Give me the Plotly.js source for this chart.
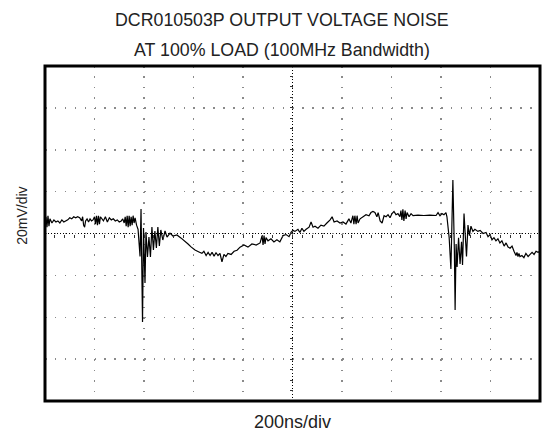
<!DOCTYPE html>
<html>
<head>
<meta charset="utf-8">
<script src="https://cdn.plot.ly/plotly-3.0.1.min.js"></script>
<style>html,body{margin:0;padding:0;background:#fff;}#chart{width:542px;height:438px;}</style>
</head>
<body>
<div id="chart"></div>
<script>
// Chart texts
const titleLines = ["DCR010503P OUTPUT VOLTAGE NOISE", "AT 100% LOAD (100MHz Bandwidth)"];
const xLabel = "200ns/div";
const yLabel = "20mV/div";

// Scope screen: 10 horizontal divisions of 200 ns, 8 vertical divisions of 20 mV
const timeRangeNs = [-1000, 1000];
const voltRangeMv = [-80, 80];

// Trace (time in ns, voltage in mV)
const timeNs = [
  -1000,-996,-992,-988,-984,-980,-972,-964,-956,-948,-940,-932,-924,-916,-908,-900,-892,-884,-876,-868,
  -860,-852,-848,-844,-840,-836,-830,-824,-818,-812,-806,-800,-796,-792,-788,-784,-780,-776,-770,-764,
  -756,-748,-740,-732,-724,-716,-708,-700,-692,-686,-680,-676,-672,-668,-664,-660,-656,-652,-648,-644,
  -640,-636,-630,-624,-616,-612,-606,-602,-596,-592,-586,-580,-574,-568,-562,-556,-550,-544,-538,-532,
  -524,-515,-507,-495,-483,-467,-451,-434,-422,-410,-394,-378,-366,-358,-349,-341,-333,-325,-317,-309,
  -301,-293,-285,-277,-269,-261,-248,-236,-224,-212,-196,-180,-164,-147,-131,-123,-119,-115,-111,-107,
  -99,-87,-75,-63,-51,-38,-26,-14,-6,2,10,22,30,38,46,55,67,75,83,91,
  103,115,127,139,152,160,168,180,192,204,216,228,236,244,248,252,257,261,265,273,
  285,297,309,317,325,333,341,346,354,362,370,378,386,394,402,410,418,426,434,438,
  442,446,450,455,459,463,471,479,487,507,531,555,580,588,596,604,612,620,624,630,
  633,640,644,648,654,657,661,665,671,677,683,687,693,699,703,709,715,721,729,737,
  749,758,770,782,790,798,806,814,822,830,838,846,855,863,871,879,887,895,903,907,
  911,915,919,927,935,943,952,960,968,976,984,992,1000
];
const noiseMv = [
  4,8,3,8.5,3.5,7,5,6.5,5.5,6,5,6.5,5.5,6,6.5,7.5,7,8,7.5,8,
  7.5,6,8,4,3,6,7,5.5,7,6,6.5,8,4.5,8.5,4,8.5,4.5,8,7,6,
  8,5.5,7.5,6.5,7,6,6.5,5.5,6,7,5,8,3.5,8.5,3,8.5,3.5,8,4,8.5,
  5,7.5,4,2,-11,11.7,-42.3,2.6,-23.6,0.7,-11.2,-1.7,-11.2,3.1,-7.9,1.2,-6.9,3.1,-6,1.7,
  -3.1,1.2,-1.7,0.2,-1.2,-0.7,-2.1,-3.6,-5,-6.4,-7.9,-8.8,-9.5,-8.5,-10.5,-9,-10.5,-9,-10.8,-9.2,
  -10.5,-9.5,-13.5,-10,-11,-9.5,-10,-8.5,-8,-6.5,-5.5,-6.5,-5,-5.5,-4.5,-1,-5.5,-1,-5,-2,
  -3.5,-2.5,-4,-3,-4,-1,-0.5,-1.5,0.5,1.5,1,2,0.5,2.5,1,2,3,5.5,3,3.5,
  2.5,4,3.5,5,6.5,8,5.5,6,5,5.5,4.5,7,5,8.5,4.5,8.5,4.5,8.5,5,7,
  8,9,8.5,10,10.5,10,8,10,6,5,8.5,8,9,7.5,9.5,10.5,9,9.5,8,11,
  6.5,11.5,6,11,7,10,8,9.5,8.5,8.8,8.6,8.8,8.6,10,8.5,9.5,9,10,8,0,
  -2,-17,0,25.6,-8,-36.5,-5,-16,-2,-14.5,-4,-15,9.5,-8,-11,4,-1,3.5,1,2,
  1,1.5,0,0.5,-1.5,-0.5,-3,-2,-3.5,-2.5,-4.5,-3.5,-6,-4.5,-6.5,-7,-6,-8.5,-10.5,-9,
  -11,-9.5,-11,-10.5,-11.5,-9.5,-11,-10,-9,-10,-8.5,-9,-8.5
];

const FONT = "Liberation Sans, Arial, Helvetica, sans-serif";
const TXT = "#222";

const trace = {
  x: timeNs, y: noiseMv, type: "scatter", mode: "lines",
  line: {color: "#000", width: 1.2},
  hoverinfo: "skip"
};

const layout = {
  width: 542, height: 438,
  margin: {l: 45, r: 2, t: 66, b: 37, pad: 0},
  paper_bgcolor: "#fff", plot_bgcolor: "#fff",
  showlegend: false, hovermode: false,
  font: {family: FONT, color: TXT},
  xaxis: {
    range: timeRangeNs, anchor: "free", position: 0.5,
    dtick: 200, tick0: 0, showticklabels: false, zeroline: false, showline: false,
    ticks: "outside", ticklen: 3, tickcolor: "#333", tickwidth: 1,
    showgrid: true, gridcolor: "#8a8a8a", gridwidth: 1.5, griddash: "1.5px,8.97px",
    minor: {dtick: 40, tick0: 0, ticks: "outside", ticklen: 3, tickcolor: "#333", tickwidth: 1, showgrid: false},
    fixedrange: true
  },
  yaxis: {
    range: voltRangeMv, anchor: "free", position: 0.5,
    dtick: 20, tick0: 0, showticklabels: false, zeroline: false, showline: false,
    ticks: "outside", ticklen: 3, tickcolor: "#333", tickwidth: 1,
    showgrid: true, gridcolor: "#8a8a8a", gridwidth: 1.5, griddash: "1.5px,8.4px",
    minor: {dtick: 5, tick0: 0, ticks: "outside", ticklen: 3, tickcolor: "#333", tickwidth: 1, showgrid: false},
    fixedrange: true
  },
  shapes: [
    {type: "line", xref: "x", yref: "paper", x0: 0, x1: 0, y0: 0, y1: 1,
     line: {color: "#000", width: 1, dash: "1px,2px"}, layer: "below"},
    {type: "line", xref: "paper", yref: "y", x0: 0, x1: 1, y0: 0, y1: 0,
     line: {color: "#000", width: 1, dash: "1px,2px"}, layer: "below"},
    {type: "rect", xref: "paper", yref: "paper", x0: 0, x1: 1, y0: 0, y1: 1,
     line: {color: "#000", width: 3}, fillcolor: "rgba(0,0,0,0)"}
  ],
  annotations: [
    {text: titleLines[0], xref: "paper", yref: "paper", x: 0.4788, y: 1.1388,
     xanchor: "center", yanchor: "middle", showarrow: false, font: {size: 17.8, family: FONT, color: TXT}},
    {text: titleLines[1], xref: "paper", yref: "paper", x: 0.4788, y: 1.0463,
     xanchor: "center", yanchor: "middle", showarrow: false, font: {size: 17.8, family: FONT, color: TXT}},
    {text: xLabel, xref: "paper", yref: "paper", x: 0.5, y: -0.0627,
     xanchor: "center", yanchor: "middle", showarrow: false, font: {size: 18, family: FONT, color: TXT}},
    {text: yLabel, xref: "paper", yref: "paper", x: -0.047, y: 0.552, textangle: -90,
     xanchor: "center", yanchor: "middle", showarrow: false, font: {size: 14, family: FONT, color: TXT}}
  ]
};

Plotly.newPlot("chart", [trace], layout, {displayModeBar: false, staticPlot: true});
</script>
</body>
</html>
